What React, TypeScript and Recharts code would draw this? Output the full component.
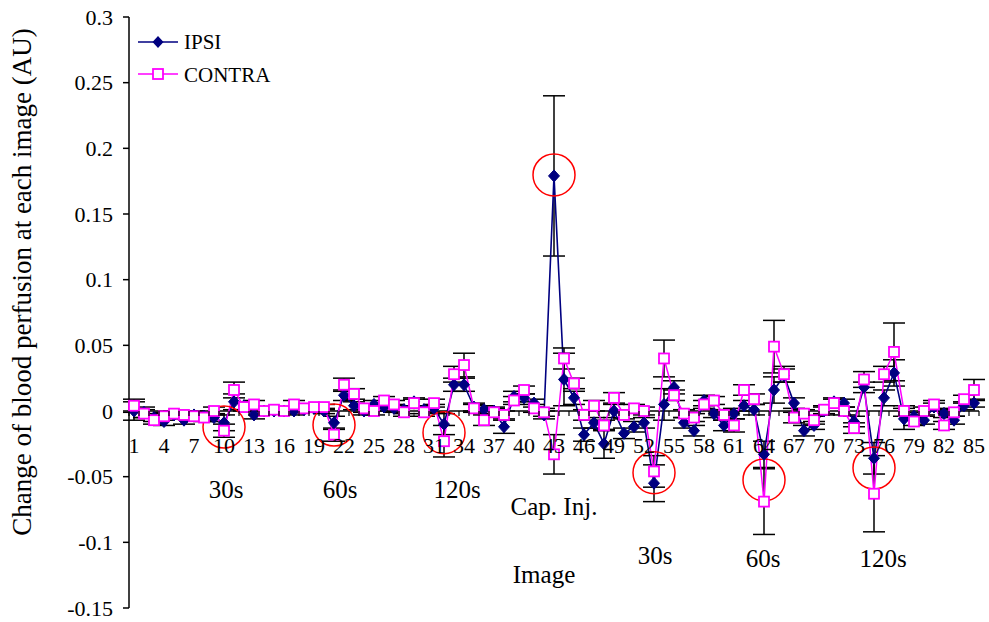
import React from 'react';
import { LineChart, Line, XAxis, YAxis, ErrorBar, ReferenceDot, ReferenceLine } from 'recharts';

// image index 1..85
const images = Array.from({ length: 85 }, (_, i) => i + 1);

const ipsi = [
  0.0, -0.001, -0.005, -0.008, -0.003, -0.007, -0.003, -0.004, -0.005, -0.009,
  0.007, 0.004, -0.003, 0.0, 0.0, 0.0, 0.0, 0.001, 0.002, 0.0,
  -0.009, 0.012, 0.004, 0.0, 0.005, 0.003, 0.002, 0.001, 0.007, 0.001,
  0.002, -0.01, 0.02, 0.02, 0.003, 0.001, 0.0, -0.012, 0.011, 0.01,
  0.006, -0.003, 0.179, 0.024, 0.01, -0.018, -0.009, -0.025, 0.0, -0.017,
  -0.012, -0.009, -0.055, 0.005, 0.018, -0.009, -0.015, 0.008, -0.002, -0.011,
  -0.002, 0.004, 0.001, -0.033, 0.016, 0.027, 0.006, -0.015, -0.011, 0.0,
  0.007, 0.006, -0.008, 0.018, -0.036, 0.01, 0.029, -0.006, -0.004, -0.007,
  0.003, -0.002, -0.007, 0.004, 0.006,
];

const contra = [
  0.004, -0.002, -0.007, -0.004, -0.002, -0.003, -0.004, -0.005, 0.0, -0.015,
  0.016, 0.003, 0.005, 0.0, 0.001, 0.0, 0.005, 0.002, 0.003, 0.003,
  -0.018, 0.02, 0.013, 0.002, 0.0, 0.008, 0.005, -0.001, 0.006, -0.001,
  0.006, -0.023, 0.028, 0.035, 0.002, -0.007, -0.001, -0.003, 0.008, 0.016,
  0.002, -0.001, -0.033, 0.04, 0.021, -0.003, 0.004, -0.011, 0.01, -0.003,
  0.002, 0.0, -0.046, 0.04, 0.012, -0.002, -0.005, 0.005, 0.008, -0.003,
  -0.011, 0.016, 0.009, -0.069, 0.049, 0.028, -0.005, -0.002, -0.007, 0.001,
  0.006, 0.0, -0.013, 0.024, -0.063, 0.028, 0.045, 0.0, -0.008, 0.0,
  0.005, -0.011, -0.001, 0.009, 0.016,
];

const ipsiErr = [
  0.007, 0.004, 0.003, 0.003, 0.002, 0.003, 0.003, 0.003, 0.003, 0.006,
  0.006, 0.003, 0.003, 0.002, 0.002, 0.002, 0.003, 0.002, 0.002, 0.002,
  0.005, 0.004, 0.003, 0.003, 0.003, 0.003, 0.003, 0.003, 0.003, 0.003,
  0.003, 0.008, 0.005, 0.005, 0.003, 0.003, 0.003, 0.005, 0.004, 0.003,
  0.003, 0.003, 0.061, 0.02, 0.005, 0.005, 0.004, 0.011, 0.005, 0.004,
  0.004, 0.004, 0.014, 0.012, 0.005, 0.004, 0.004, 0.004, 0.003, 0.004,
  0.004, 0.004, 0.004, 0.01, 0.01, 0.005, 0.004, 0.004, 0.003, 0.003,
  0.003, 0.003, 0.004, 0.004, 0.012, 0.006, 0.01, 0.008, 0.003, 0.003,
  0.003, 0.003, 0.003, 0.003, 0.003,
];

const contraErr = [
  0.005, 0.003, 0.003, 0.003, 0.002, 0.003, 0.003, 0.003, 0.003, 0.005,
  0.006, 0.003, 0.003, 0.002, 0.002, 0.002, 0.003, 0.002, 0.002, 0.002,
  0.005, 0.005, 0.004, 0.003, 0.003, 0.003, 0.003, 0.003, 0.003, 0.003,
  0.003, 0.012, 0.006, 0.009, 0.003, 0.004, 0.003, 0.003, 0.003, 0.003,
  0.003, 0.003, 0.015, 0.008, 0.004, 0.004, 0.004, 0.004, 0.004, 0.003,
  0.003, 0.003, 0.012, 0.014, 0.004, 0.003, 0.003, 0.003, 0.003, 0.004,
  0.005, 0.004, 0.004, 0.025, 0.02, 0.006, 0.004, 0.003, 0.003, 0.003,
  0.003, 0.003, 0.004, 0.006, 0.029, 0.006, 0.022, 0.004, 0.003, 0.003,
  0.003, 0.003, 0.003, 0.003, 0.008,
];

// circled images
const circledImages = [10, 21, 32, 43, 53, 64, 75];
const circledValues = [-0.0122, -0.0107, -0.0165, 0.1797, -0.047, -0.0525, -0.0434];

const yTicks = [-0.15, -0.1, -0.05, 0, 0.05, 0.1, 0.15, 0.2, 0.25, 0.3];

const phaseLabels = ['30s', '60s', '120s', 'Cap. Inj.', '30s', '60s', '120s'];
const phasePos = [
  [226, 498], [340, 498], [457, 498], [554, 515], [655, 564], [763, 567], [883, 567],
];

const data = images.map((image, i) => ({
  image,
  ipsi: ipsi[i],
  contra: contra[i],
  ipsiErr: ipsiErr[i],
  contraErr: contraErr[i],
}));

const W = 989;
const H = 622;
const TOP = 17;
const XAXIS_H = 14;
const LEFT = 129;
const RIGHT = 10;
const PLOT_BOTTOM = H - XAXIS_H;
const AXIS_Y = TOP + ((PLOT_BOTTOM - TOP) * 0.3) / 0.45;
const BAND = (W - LEFT - RIGHT) / images.length;
const FONT = 'Liberation Serif';
const NAVY = '#000080';
const MAGENTA = '#FF00FF';

const XTick = (props: any) => {
  const { x, payload, index } = props;
  const half = BAND / 2;
  const showLabel = (payload.value - 1) % 3 === 0;
  return (
    <g>
      <line x1={x - half} x2={x - half} y1={AXIS_Y} y2={AXIS_Y + 5} stroke="#000" strokeWidth={1.2} />
      {index === images.length - 1 && (
        <line x1={x + half} x2={x + half} y1={AXIS_Y} y2={AXIS_Y + 5} stroke="#000" strokeWidth={1.2} />
      )}
      {showLabel && (
        <text x={x} y={AXIS_Y + 42} textAnchor="middle" fontSize={22} fontFamily={FONT} fill="#000">
          {payload.value}
        </text>
      )}
    </g>
  );
};

const YTick = (props: any) => {
  const { x, y, payload } = props;
  return (
    <text x={x} y={y} dy="0.35em" textAnchor="end" fontSize={22} fontFamily={FONT} fill="#000">
      {String(Number(Number(payload.value).toFixed(2)))}
    </text>
  );
};

const Diamond = (props: any) => {
  const { cx, cy, index } = props;
  if (cx == null || cy == null) return <g key={`d-${index}`} />;
  const s = 5.5;
  return (
    <path
      key={`d-${index}`}
      d={`M${cx},${cy - s - 0.5} L${cx + s},${cy} L${cx},${cy + s + 0.5} L${cx - s},${cy} Z`}
      fill={NAVY}
      stroke={NAVY}
      strokeWidth={1}
    />
  );
};

const Square = (props: any) => {
  const { cx, cy, index } = props;
  if (cx == null || cy == null) return <g key={`s-${index}`} />;
  const s = 5;
  return (
    <rect key={`s-${index}`} x={cx - s} y={cy - s} width={2 * s} height={2 * s} fill="#fff" stroke={MAGENTA} strokeWidth={1.8} />
  );
};

export default function App() {
  return (
    <div style={{ position: 'absolute', left: 0, top: 0, width: W, height: H, background: '#fff', fontFamily: FONT }}>
      <LineChart width={W} height={H} data={data} margin={{ top: TOP, right: RIGHT, bottom: 0, left: 0 }}>
        <XAxis
          dataKey="image"
          height={XAXIS_H}
          axisLine={false}
          tickLine={false}
          interval={0}
          padding={{ left: BAND / 2, right: BAND / 2 }}
          tick={<XTick />}
        />
        <YAxis
          width={LEFT}
          domain={[-0.15, 0.3]}
          ticks={yTicks}
          allowDataOverflow
          tick={<YTick />}
          stroke="#000"
          strokeWidth={1.5}
          tickSize={6}
          tickMargin={10}
        />
        <ReferenceLine y={0} stroke="#000" strokeWidth={1.5} />
        <Line
          dataKey="ipsi"
          type="linear"
          stroke={NAVY}
          strokeWidth={1.6}
          dot={Diamond}
          isAnimationActive={false}
        >
          <ErrorBar dataKey="ipsiErr" width={11} stroke="#000" strokeWidth={1.5} direction="y" />
        </Line>
        <Line
          dataKey="contra"
          type="linear"
          stroke={MAGENTA}
          strokeWidth={1.5}
          dot={Square}
          isAnimationActive={false}
        >
          <ErrorBar dataKey="contraErr" width={11} stroke="#000" strokeWidth={1.5} direction="y" />
        </Line>
        {circledImages.map((img, i) => (
          <ReferenceDot
            key={img}
            x={img}
            y={circledValues[i]}
            r={21}
            fill="none"
            stroke="#FF0000"
            strokeWidth={1.5}
          />
        ))}
      </LineChart>
      <svg
        width={W}
        height={H}
        fontFamily={FONT}
        style={{ position: 'absolute', left: 0, top: 0, pointerEvents: 'none' }}
      >
        {/* legend */}
        <line x1={138} x2={178} y1={42} y2={42} stroke={NAVY} strokeWidth={1.5} />
        <path d="M158,36 L163.5,42 L158,48 L152.5,42 Z" fill={NAVY} />
        <text x={184} y={49} fontSize={21} fill="#000">IPSI</text>
        <line x1={138} x2={178} y1={74} y2={74} stroke={MAGENTA} strokeWidth={1.5} />
        <rect x={153} y={69} width={10} height={10} fill="#fff" stroke={MAGENTA} strokeWidth={1.8} />
        <text x={184} y={82} fontSize={21} fill="#000">CONTRA</text>
        {/* phase annotations */}
        {phaseLabels.map((t, i) => (
          <text key={i} x={phasePos[i][0]} y={phasePos[i][1]} fontSize={25} textAnchor="middle" fill="#000">
            {t}
          </text>
        ))}
        <text x={544} y={583} fontSize={25} textAnchor="middle" fill="#000">Image</text>
        <text
          x={0}
          y={0}
          transform="translate(31,282) rotate(-90)"
          fontSize={27}
          textAnchor="middle"
          fill="#000"
        >
          Change of blood perfusion at each image (AU)
        </text>
      </svg>
    </div>
  );
}
